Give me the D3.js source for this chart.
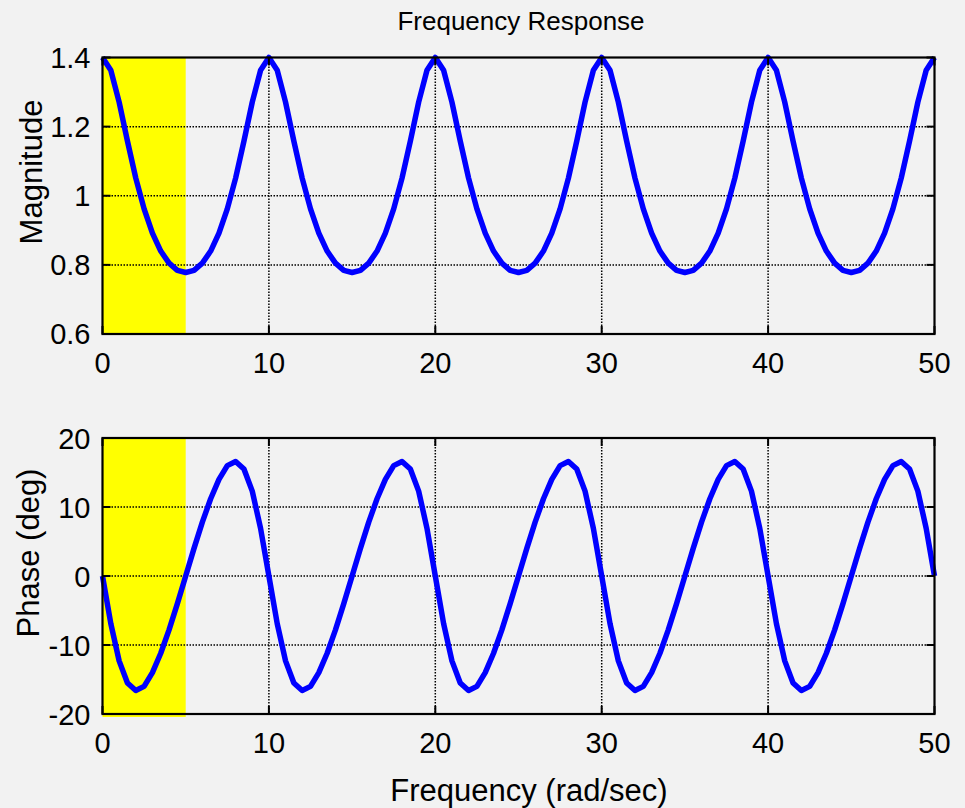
<!DOCTYPE html>
<html>
<head>
<meta charset="utf-8">
<script src="https://cdn.jsdelivr.net/npm/d3@7/dist/d3.min.js"></script>
<style>
  body { margin: 0; background: #f2f2f2; }
  svg { display: block; font-family: "Liberation Sans", Arial, sans-serif; }
</style>
</head>
<body>
<div id="chart"></div>
<script>
// Data (rad/sec, magnitude, phase in degrees)
var freq = [0, 0.5, 1, 1.5, 2, 2.5, 3, 3.5, 4, 4.5, 5, 5.5, 6, 6.5, 7, 7.5, 8, 8.5, 9, 9.5,
    10, 10.5, 11, 11.5, 12, 12.5, 13, 13.5, 14, 14.5, 15, 15.5, 16, 16.5, 17, 17.5, 18, 18.5, 19, 19.5,
    20, 20.5, 21, 21.5, 22, 22.5, 23, 23.5, 24, 24.5, 25, 25.5, 26, 26.5, 27, 27.5, 28, 28.5, 29, 29.5,
    30, 30.5, 31, 31.5, 32, 32.5, 33, 33.5, 34, 34.5, 35, 35.5, 36, 36.5, 37, 37.5, 38, 38.5, 39, 39.5,
    40, 40.5, 41, 41.5, 42, 42.5, 43, 43.5, 44, 44.5, 45, 45.5, 46, 46.5, 47, 47.5, 48, 48.5, 49, 49.5,
    50];

var magnitude = [1.4, 1.363, 1.271, 1.158, 1.051, 0.962, 0.892, 0.840, 0.805, 0.784, 0.778, 0.784, 0.805, 0.840, 0.892, 0.962, 1.051, 1.158, 1.271, 1.363,
    1.4, 1.363, 1.271, 1.158, 1.051, 0.962, 0.892, 0.840, 0.805, 0.784, 0.778, 0.784, 0.805, 0.840, 0.892, 0.962, 1.051, 1.158, 1.271, 1.363,
    1.4, 1.363, 1.271, 1.158, 1.051, 0.962, 0.892, 0.840, 0.805, 0.784, 0.778, 0.784, 0.805, 0.840, 0.892, 0.962, 1.051, 1.158, 1.271, 1.363,
    1.4, 1.363, 1.271, 1.158, 1.051, 0.962, 0.892, 0.840, 0.805, 0.784, 0.778, 0.784, 0.805, 0.840, 0.892, 0.962, 1.051, 1.158, 1.271, 1.363,
    1.4, 1.363, 1.271, 1.158, 1.051, 0.962, 0.892, 0.840, 0.805, 0.784, 0.778, 0.784, 0.805, 0.840, 0.892, 0.962, 1.051, 1.158, 1.271, 1.363,
    1.4];

var phase = [0, -6.9, -12.3, -15.5, -16.6, -16.0, -14.0, -11.2, -7.8, -4.0, 0, 4.0, 7.8, 11.2, 14.0, 16.0, 16.6, 15.5, 12.3, 6.9,
    0, -6.9, -12.3, -15.5, -16.6, -16.0, -14.0, -11.2, -7.8, -4.0, 0, 4.0, 7.8, 11.2, 14.0, 16.0, 16.6, 15.5, 12.3, 6.9,
    0, -6.9, -12.3, -15.5, -16.6, -16.0, -14.0, -11.2, -7.8, -4.0, 0, 4.0, 7.8, 11.2, 14.0, 16.0, 16.6, 15.5, 12.3, 6.9,
    0, -6.9, -12.3, -15.5, -16.6, -16.0, -14.0, -11.2, -7.8, -4.0, 0, 4.0, 7.8, 11.2, 14.0, 16.0, 16.6, 15.5, 12.3, 6.9,
    0, -6.9, -12.3, -15.5, -16.6, -16.0, -14.0, -11.2, -7.8, -4.0, 0, 4.0, 7.8, 11.2, 14.0, 16.0, 16.6, 15.5, 12.3, 6.9,
    0];

// highlighted band (rad/sec)
var bandRange = [0, 5];

var xTicks = [0, 10, 20, 30, 40, 50];
var magTicks = [0.6, 0.8, 1, 1.2, 1.4];
var phaseTicks = [-20, -10, 0, 10, 20];

// Set up the svg params
var svgWidth = 965;
var svgHeight = 808;

var left = 102.5, right = 934.5;

var svg = d3.select("#chart").append("svg")
    .attr("width", svgWidth)
    .attr("height", svgHeight);

svg.append("rect")
    .attr("width", svgWidth)
    .attr("height", svgHeight)
    .attr("fill", "#f2f2f2");

var xScale = d3.scaleLinear().domain([0, 50]).range([left, right]);

// draws one axes box with band, grid, curve and ticks
function drawPanel(opts) {
    var y = d3.scaleLinear().domain(opts.domain).range([opts.bottom, opts.top]);
    var g = svg.append("g");

    // yellow band
    g.append("rect")
        .attr("x", xScale(bandRange[0]))
        .attr("y", y(opts.domain[1]))
        .attr("width", xScale(bandRange[1]) - xScale(bandRange[0]))
        .attr("height", y(opts.domain[0]) - y(opts.domain[1]) + opts.bandExtra)
        .attr("fill", "#ffff00");

    // dotted grid
    var grid = g.append("g")
        .attr("stroke", "#000")
        .attr("stroke-width", 1.5)
        .attr("stroke-dasharray", "1.5,1.5");

    grid.selectAll(".vgrid")
        .data(xTicks.slice(1, -1))
        .enter()
        .append("line")
        .attr("x1", d => xScale(d))
        .attr("x2", d => xScale(d))
        .attr("y1", opts.top)
        .attr("y2", opts.bottom);

    grid.selectAll(".hgrid")
        .data(opts.ticks.slice(1, -1))
        .enter()
        .append("line")
        .attr("x1", left)
        .attr("x2", right)
        .attr("y1", d => y(d))
        .attr("y2", d => y(d));

    // the curve
    var line = d3.line()
        .x((d, i) => xScale(freq[i]))
        .y(d => y(d));

    g.append("path")
        .datum(opts.values)
        .attr("fill", "none")
        .attr("stroke", "#0000ff")
        .attr("stroke-width", 5.5)
        .attr("stroke-linejoin", "round")
        .attr("d", line);

    // inward ticks on all four sides
    var tickLen = 8;
    var ticks = g.append("g")
        .attr("stroke", "#000")
        .attr("stroke-width", 2);

    xTicks.forEach(function(t) {
        ticks.append("line")
            .attr("x1", xScale(t)).attr("x2", xScale(t))
            .attr("y1", opts.bottom).attr("y2", opts.bottom - tickLen);
        ticks.append("line")
            .attr("x1", xScale(t)).attr("x2", xScale(t))
            .attr("y1", opts.top).attr("y2", opts.top + tickLen);
    });

    opts.ticks.forEach(function(t) {
        ticks.append("line")
            .attr("x1", left).attr("x2", left + tickLen)
            .attr("y1", y(t)).attr("y2", y(t));
        ticks.append("line")
            .attr("x1", right).attr("x2", right - tickLen)
            .attr("y1", y(t)).attr("y2", y(t));
    });

    // box
    g.append("rect")
        .attr("x", left)
        .attr("y", opts.top)
        .attr("width", right - left)
        .attr("height", opts.bottom - opts.top)
        .attr("fill", "none")
        .attr("stroke", "#000")
        .attr("stroke-width", 2.2);

    // tick labels (plain hyphen for negatives, like the original)
    g.selectAll(".xlab")
        .data(xTicks)
        .enter()
        .append("text")
        .attr("x", d => xScale(d))
        .attr("y", opts.bottom + 39)
        .attr("text-anchor", "middle")
        .style("font-size", "29px")
        .text(d => String(d));

    g.selectAll(".ylab")
        .data(opts.ticks)
        .enter()
        .append("text")
        .attr("x", left - 12)
        .attr("y", d => y(d) + opts.labelShift)
        .attr("text-anchor", "end")
        .style("font-size", "29px")
        .text(d => String(d));

    // axis label
    g.append("text")
        .attr("transform", `translate(${opts.labelX}, ${opts.labelY}) rotate(-90)`)
        .attr("text-anchor", "middle")
        .style("font-size", "31px")
        .text(opts.label);

    return g;
}

drawPanel({
    domain: [0.6, 1.4],
    top: 57.5,
    bottom: 334,
    ticks: magTicks,
    values: magnitude,
    bandExtra: 1,
    labelShift: 10,
    label: "Magnitude",
    labelX: 42,
    labelY: 172
});

drawPanel({
    domain: [-20, 20],
    top: 438,
    bottom: 714,
    ticks: phaseTicks,
    values: phase,
    bandExtra: 3,
    labelShift: 11,
    label: "Phase (deg)",
    labelX: 39,
    labelY: 553
});

// title
svg.append("text")
    .attr("x", 521)
    .attr("y", 30)
    .attr("text-anchor", "middle")
    .style("font-size", "26px")
    .text("Frequency Response");

// x axis label
svg.append("text")
    .attr("x", 529)
    .attr("y", 801)
    .attr("text-anchor", "middle")
    .style("font-size", "31px")
    .text("Frequency (rad/sec)");
</script>
</body>
</html>
